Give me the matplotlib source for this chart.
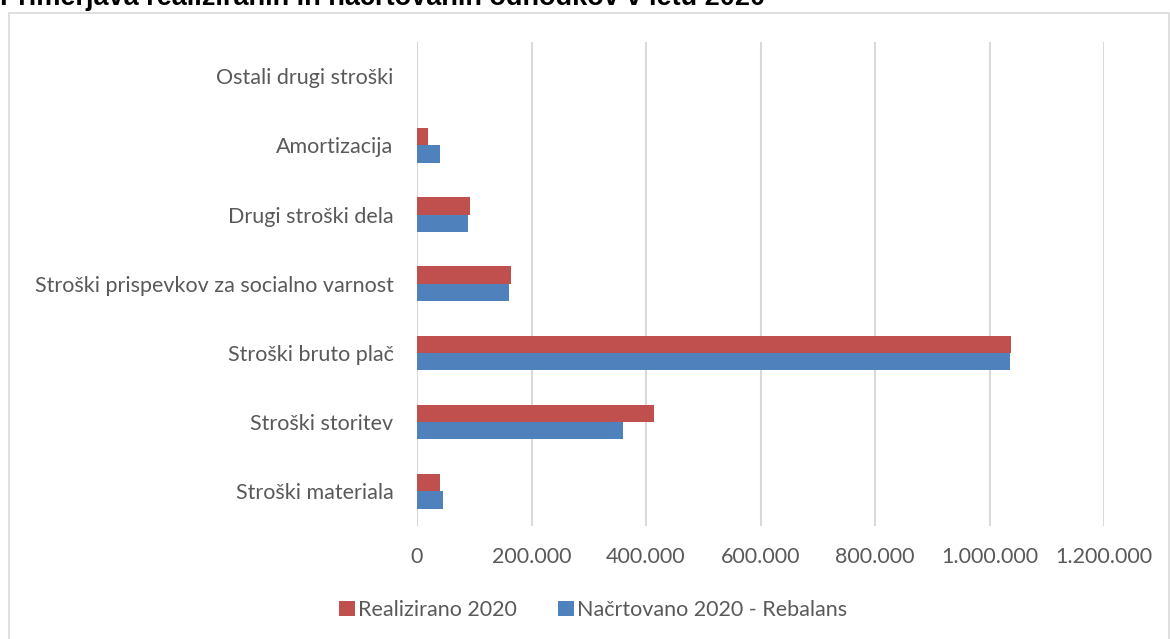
import numpy as np
import matplotlib; matplotlib.use("Agg")
import matplotlib.pyplot as plt
from matplotlib.patches import Rectangle

categories = ['Stroški materiala', 'Stroški storitev', 'Stroški bruto plač',
              'Stroški prispevkov za socialno varnost', 'Drugi stroški dela',
              'Amortizacija', 'Ostali drugi stroški']
realizirano = [39600, 414000, 1038000, 164000, 93000, 18600, 0]
nacrtovano = [45000, 360000, 1035000, 160000, 89600, 39600, 0]
xticks = [0, 200000, 400000, 600000, 800000, 1000000, 1200000]
xlabels = ['0', '200.000', '400.000', '600.000', '800.000', '1.000.000', '1.200.000']

plt.rcParams['font.family'] = ['Lato', 'DejaVu Sans']

fig = plt.figure(figsize=(11.7, 6.39), dpi=100)
W, H = 1170, 639
ax = fig.add_axes([417 / W, 1 - 526 / H, (1104 - 417) / W, (526 - 41.5) / H])

y = np.arange(len(categories))
h = 0.25
ax.barh(y + h / 2, realizirano, height=h, color='#C0504D', label='Realizirano 2020', zorder=3)
ax.barh(y - h / 2, nacrtovano, height=h, color='#4F81BD', label='Načrtovano 2020 - Rebalans', zorder=3)

ax.set_xlim(0, 1200000)
ax.set_ylim(-0.5, len(categories) - 0.5)
ax.set_xticks(xticks)
ax.set_xticklabels(xlabels)
ax.set_yticks(y)
ax.set_yticklabels(categories)
ax.tick_params(length=0, labelsize=15.5, colors='#595959')
ax.tick_params(axis='y', pad=17)
ax.tick_params(axis='x', pad=15)
ax.xaxis.grid(True, color='#D9D9D9', linewidth=1.5, zorder=0)
for s in ax.spines.values():
    s.set_visible(False)

# chart border
fig.patches.append(Rectangle((9 / W, -0.01), (1169 - 9) / W, 1 - 12.5 / H + 0.01,
                             transform=fig.transFigure, fill=False,
                             edgecolor='#D9D9D9', linewidth=1.2))

# title is clipped at the top edge, as in the original
fig.text(0, 1 - 5 / H, 'Primerjava realiziranih in načrtovanih odhodkov v letu 2020',
         fontsize=19.5, fontweight='bold', family=['Liberation Sans', 'DejaVu Sans'],
         va='baseline', ha='left')

fig.legend(loc='center', bbox_to_anchor=(0.507, 1 - 610 / H), ncol=2, frameon=False,
           fontsize=15.5, labelcolor='#595959', handlelength=0.75, handleheight=0.75,
           handletextpad=0.15, columnspacing=1.9)

fig.savefig('out.png', dpi=100)
